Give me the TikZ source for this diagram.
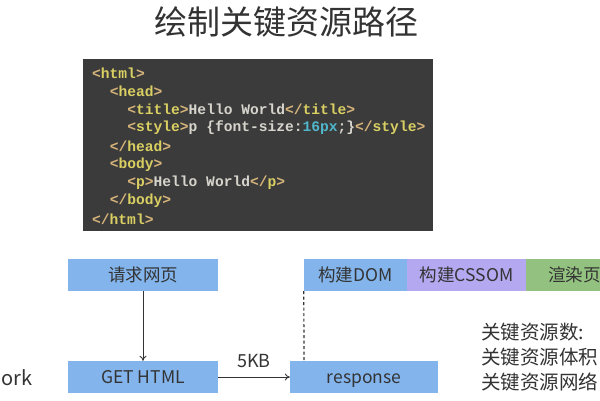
\documentclass[tikz,border=0pt]{standalone}
\usepackage{fontspec}
\setmainfont{Noto Sans CJK SC}
\setmonofont{Liberation Mono}
\usetikzlibrary{arrows.meta}
\definecolor{codebg}{HTML}{3B3B3B}
\definecolor{brk}{HTML}{D6B47A}
\definecolor{tagc}{HTML}{D9CF62}
\definecolor{txtc}{HTML}{D6D4CC}
\definecolor{numc}{HTML}{4FB6CC}
\definecolor{boxblue}{HTML}{83B5EC}
\definecolor{boxpurple}{HTML}{B4A8F0}
\definecolor{boxgreen}{HTML}{93C280}
\definecolor{ink}{HTML}{333333}
\newcommand{\tg}[1]{\textcolor{brk}{<}\textcolor{tagc}{#1}\textcolor{brk}{>}}
\newcommand{\ctg}[1]{\textcolor{brk}{</}\textcolor{tagc}{#1}\textcolor{brk}{>}}
\tikzset{
  codeline/.style={anchor=west, inner sep=0pt, font=\ttfamily\bfseries\fontsize{14.6}{16}\selectfont, text=txtc},
  flowbox/.style={fill=#1, draw=none, minimum height=32pt, inner sep=0pt, text=ink,
    text height=14pt, text depth=2pt, font=\fontsize{17.5}{20}\selectfont},
  lbl/.style={inner sep=0pt, text=ink, text height=14pt, text depth=2pt, font=\fontsize{17.5}{20}\selectfont},
  note/.style={anchor=west, inner sep=0pt, text=ink, font=\fontsize{19.5}{22}\selectfont},
  link/.style={draw=ink, line width=0.9pt, -{To[length=5pt,width=7pt]}},
}
\begin{document}
\begin{tikzpicture}[x=1pt,y=-1pt]
\useasboundingbox (0,0) rectangle (600,400);
\fill[white] (0,0) rectangle (600,400);
% title
\node[text=ink, font=\fontsize{33}{36}\selectfont, inner sep=0pt] (title) at (286.5,22) {绘制关键资源路径};
% code block
\node[fill=codebg, minimum width=350pt, minimum height=172pt, inner sep=0pt, anchor=north west] (code) at (83,59) {};
\node[codeline] (c1) at (92,73) {\tg{html}};
\node[codeline] (c2) at (109.6,91.25) {\tg{head}};
\node[codeline] (c3) at (127.2,109.5) {\tg{title}Hello World\ctg{title}};
\node[codeline] (c4) at (127.2,127.75) {\tg{style}p \{font-size:\textcolor{numc}{16px};\}\ctg{style}};
\node[codeline] (c5) at (109.6,146) {\ctg{head}};
\node[codeline] (c6) at (109.6,164.25) {\tg{body}};
\node[codeline] (c7) at (127.2,182.5) {\tg{p}Hello World\ctg{p}};
\node[codeline] (c8) at (109.6,200.75) {\ctg{body}};
\node[codeline] (c9) at (92,219) {\ctg{html}};
% flow boxes
\node[flowbox=boxblue, minimum width=150pt] (req) at (143,275) {请求网页};
\node[flowbox=boxblue, minimum width=150pt] (get) at (143,377) {GET HTML};
\node[flowbox=boxblue, minimum width=148pt] (resp) at (364,377) {response};
\node[flowbox=boxblue, minimum width=103pt] (dom) at (355.5,275) {构建DOM};
\node[flowbox=boxpurple, minimum width=119pt] (cssom) at (466.5,275) {构建CSSOM};
\node[flowbox=boxgreen, minimum width=74pt] (render) at (563,275) {};
\node[lbl] (renderlbl) at (574.5,275) {渲染页};
% connectors
\draw[link] (req.south) -- (get.north);
\draw[link] (get.east) -- node[above=9pt, text=ink, font=\fontsize{18}{20}\selectfont, inner sep=0pt] (kb) {5KB} (resp.west);
\coordinate (dashend) at (304,361);
\draw[ink, line width=1.2pt, dash pattern=on 3pt off 2.5pt] (dom.south west) -- (dashend);
% side texts
\node[anchor=east, inner sep=0pt, text=ink, font=\fontsize{20}{22}\selectfont] (net) at (33,378) {ork};
\node[note] (n1) at (481,332) {关键资源数:};
\node[note] (n2) at (481,357) {关键资源体积};
\node[note] (n3) at (481,382) {关键资源网络};
\end{tikzpicture}
\end{document}
